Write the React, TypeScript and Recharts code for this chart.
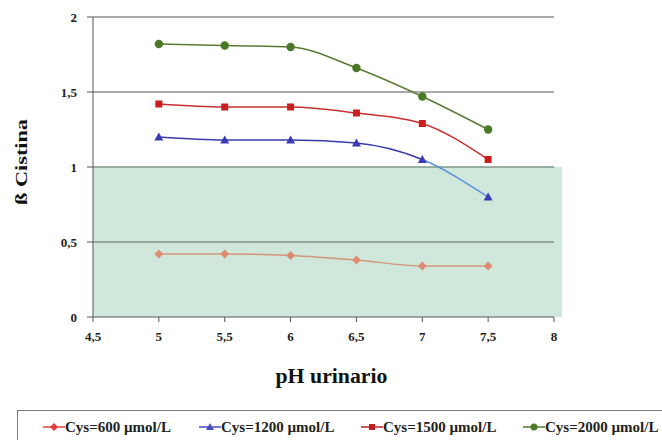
import React from 'react';
import { LineChart, Line, XAxis, YAxis, ReferenceArea, ReferenceLine, Label } from 'recharts';

const phValues = [5, 5.5, 6, 6.5, 7, 7.5];
const cys600 = [0.42, 0.42, 0.41, 0.38, 0.34, 0.34];
const cys1200 = [1.2, 1.18, 1.18, 1.16, 1.05, 0.8];
const cys1500 = [1.42, 1.4, 1.4, 1.36, 1.29, 1.05];
const cys2000 = [1.82, 1.81, 1.8, 1.66, 1.47, 1.25];
const xTicks = [4.5, 5, 5.5, 6, 6.5, 7, 7.5, 8];
const yTicks = [0, 0.5, 1, 1.5, 2];
const seriesNames = ['Cys=600 µmol/L', 'Cys=1200 µmol/L', 'Cys=1500 µmol/L', 'Cys=2000 µmol/L'];

const data = phValues.map((ph, i) => ({ ph, s600: cys600[i], s1200: cys1200[i], s1500: cys1500[i], s2000: cys2000[i] }));

const FONT = "'Liberation Serif', 'Times New Roman', Times, serif";
const fmt = (v: number) => String(v).replace('.', ',');

const Diamond = (props: any) => {
  const { cx, cy, fill } = props;
  if (cx == null || cy == null) return null;
  return <path d={`M${cx},${cy - 4.5}L${cx + 4.5},${cy}L${cx},${cy + 4.5}L${cx - 4.5},${cy}Z`} fill={fill} />;
};
const Square = (props: any) => {
  const { cx, cy, fill } = props;
  if (cx == null || cy == null) return null;
  return <rect x={cx - 3.5} y={cy - 3.5} width={7} height={7} fill={fill} />;
};
const Tri = (props: any) => {
  const { cx, cy, fill } = props;
  if (cx == null || cy == null) return null;
  return <path d={`M${cx},${cy - 4.5}L${cx + 4.5},${cy + 3.5}L${cx - 4.5},${cy + 3.5}Z`} fill={fill} />;
};
const Circ = (props: any) => {
  const { cx, cy, fill } = props;
  if (cx == null || cy == null) return null;
  return <circle cx={cx} cy={cy} r={4.2} fill={fill} />;
};

const legendItems = [
  { name: seriesNames[0], color: '#e0403a', shape: 'diamond', left: 43 },
  { name: seriesNames[1], color: '#4a4ac0', shape: 'tri', left: 199 },
  { name: seriesNames[2], color: '#c02020', shape: 'square', left: 361 },
  { name: seriesNames[3], color: '#4e7a2c', shape: 'circle', left: 523 },
];

const LegendBox = () => (
  <div style={{ position: 'absolute', left: 17, top: 410, width: 660, height: 40, border: '1px solid #777', boxSizing: 'border-box' }}>
    {legendItems.map((it, i) => (
      <div key={i} style={{ position: 'absolute', left: it.left - 18, top: 6, display: 'flex', alignItems: 'center', height: 20, fontFamily: FONT, fontWeight: 'bold', fontSize: 15, color: '#222', whiteSpace: 'nowrap' }}>
        <svg width={22} height={12} style={{ marginRight: 0 }}>
          <line x1={0} y1={6} x2={22} y2={6} stroke={it.color} strokeWidth={1.5} />
          {it.shape === 'diamond' && <path d="M11,2L15,6L11,10L7,6Z" fill={it.color} />}
          {it.shape === 'tri' && <path d="M11,2L15,9L7,9Z" fill={it.color} />}
          {it.shape === 'square' && <rect x={8} y={3} width={6} height={6} fill={it.color} />}
          {it.shape === 'circle' && <circle cx={11} cy={6} r={3.5} fill={it.color} />}
        </svg>
        <span>{it.name}</span>
      </div>
    ))}
  </div>
);

export default function App() {
  return (
    <div style={{ position: 'absolute', left: 0, top: 0, width: 662, height: 440, background: '#fff', overflow: 'hidden' }}>
      <LineChart width={662} height={440} data={data} margin={{ top: 17, right: 108, left: 0, bottom: 93 }}>
        <defs>
          <linearGradient id="blueGrad" x1="0" y1="0" x2="1" y2="0">
            <stop offset="0%" stopColor="#3a3aac" />
            <stop offset="80%" stopColor="#3a3aac" />
            <stop offset="80%" stopColor="#5a8ee0" />
            <stop offset="100%" stopColor="#5a8ee0" />
          </linearGradient>
        </defs>
        <XAxis
          dataKey="ph"
          type="number"
          domain={[4.5, 8]}
          ticks={xTicks}
          tickFormatter={fmt}
          height={30}
          stroke="#555"
          tickSize={5}
          tickMargin={10}
          tick={{ fontFamily: FONT, fontWeight: 'bold', fontSize: 13, fill: '#222' }}
        >
          <Label
            content={(p: any) => {
              const vb = p.viewBox || {};
              const cx = vb.x + vb.width / 2 + 8;
              return (
                <text x={cx} y={383} textAnchor="middle" textLength={112} lengthAdjust="spacingAndGlyphs" style={{ fontFamily: FONT, fontWeight: 'bold', fontSize: 20, fill: '#111' }}>
                  pH urinario
                </text>
              );
            }}
          />
        </XAxis>
        <YAxis
          type="number"
          domain={[0, 2]}
          ticks={yTicks}
          tickFormatter={fmt}
          width={93}
          stroke="#555"
          tickSize={6}
          tickMargin={10}
          tick={{ fontFamily: FONT, fontWeight: 'bold', fontSize: 13, fill: '#222' }}
        >
          <Label
            content={(p: any) => {
              const vb = p.viewBox || {};
              const cy = vb.y + vb.height / 2 - 5;
              return (
                <text x={27} y={cy} transform={`rotate(-90, 27, ${cy})`} textAnchor="middle" textLength={86} lengthAdjust="spacingAndGlyphs" style={{ fontFamily: FONT, fontWeight: 'bold', fontSize: 16, fill: '#111' }}>
                  ß Cistina
                </text>
              );
            }}
          />
        </YAxis>
        <ReferenceArea x1={4.5} x2={8.06} y1={0} y2={1} fill="#d0e8db" fillOpacity={1} stroke="none" ifOverflow="visible" />
        <ReferenceLine y={0.5} stroke="#666" strokeWidth={1} />
        <ReferenceLine y={1} stroke="#7e9a8a" strokeWidth={1.5} />
        <ReferenceLine y={1.5} stroke="#555" strokeWidth={1} />
        <ReferenceLine y={2} stroke="#555" strokeWidth={1} />
        <Line type="monotone" dataKey="s600" name={seriesNames[0]} stroke="#d4967c" strokeWidth={1.5} dot={<Diamond fill="#dd8c72" />} isAnimationActive={false} />
        <Line type="monotone" dataKey="s1200" name={seriesNames[1]} stroke="url(#blueGrad)" strokeWidth={1.5} dot={<Tri fill="#3a3ab4" />} isAnimationActive={false} />
        <Line type="monotone" dataKey="s1500" name={seriesNames[2]} stroke="#c83030" strokeWidth={1.5} dot={<Square fill="#c81e1e" />} isAnimationActive={false} />
        <Line type="monotone" dataKey="s2000" name={seriesNames[3]} stroke="#5a7a34" strokeWidth={1.5} dot={<Circ fill="#4a7a28" />} isAnimationActive={false} />
      </LineChart>
      <LegendBox />
    </div>
  );
}
